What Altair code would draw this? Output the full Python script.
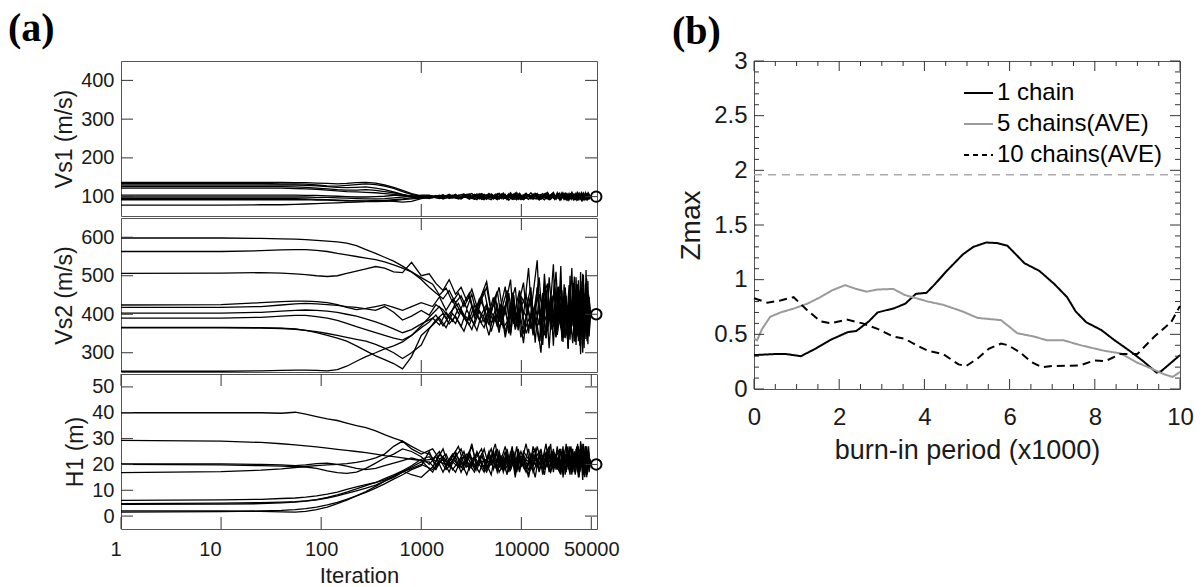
import altair as alt
import pandas as pd

FONT = "Liberation Sans"
SERIF = "Liberation Serif"

# ---------------- panel (a) data ----------------
EARLY_ITER = [1, 10, 25, 40, 55, 70, 90, 115, 145, 180, 225, 280, 350, 430, 530, 650, 800, 1000]
NOISE_ITER_A = [1200, 1400, 1650, 1900, 2200, 2500, 2850, 3200, 3600, 4000,
                4500, 5000, 5500, 6000, 6600, 7200, 7800, 8400, 9000, 9600,
                10500, 11800, 13100, 14400, 15700, 17000, 18300, 19600, 20900, 22200,
                23500, 24800, 26100, 27400, 28700, 30000, 31300, 32600, 33900, 35200,
                36500, 37800, 39100, 40400, 41700, 43000, 44300, 45600, 46900, 48200]
NOISE_ITER_B = [1300, 1520, 1770, 2050, 2350, 2670, 3020, 3400, 3800, 4250,
                4750, 5250, 5750, 6300, 6900, 7500, 8100, 8700, 9300, 9900,
                11150, 12450, 13750, 15050, 16350, 17650, 18950, 20250, 21550, 22850,
                24150, 25450, 26750, 28050, 29350, 30650, 31950, 33250, 34550, 35850,
                37150, 38450, 39750, 41050, 42350, 43650, 44950, 46250, 47550, 49000]
TRUE_ITER = 56000
TRUE_VS1, TRUE_VS2, TRUE_H1 = 100, 400, 20
A_XTICKS_TOP = [1000, 10000]
A_XTICKS_BOTTOM = [1, 10, 100, 1000, 10000, 50000]
VS1_YTICKS = [100, 200, 300, 400]
VS2_YTICKS = [300, 400, 500, 600]
H1_YTICKS = [0, 10, 20, 30, 40, 50]

VS1_EARLY = [
    [137, 137, 137, 137, 136, 136, 135, 134, 133, 134, 136, 137, 135, 130, 124, 116, 108, 102],
    [134, 134, 134, 133, 133, 132, 130, 128, 127, 129, 131, 133, 131, 127, 121, 113, 106, 99],
    [130, 130, 130, 130, 130, 129, 128, 126, 124, 123, 124, 125, 122, 118, 112, 106, 101, 97],
    [126, 126, 126, 126, 125, 124, 122, 120, 118, 117, 117, 118, 116, 113, 110, 105, 100, 98],
    [122, 122, 122, 122, 121, 120, 119, 117, 115, 113, 112, 111, 110, 108, 106, 103, 99, 104],
    [104, 104, 104, 104, 104, 103, 103, 102, 101, 100, 99, 99, 100, 101, 103, 104, 102, 100],
    [99, 99, 99, 99, 99, 99, 98, 98, 97, 96, 95, 94, 94, 95, 97, 99, 101, 99],
    [95, 95, 95, 95, 95, 94, 93, 92, 91, 90, 89, 89, 90, 90, 92, 94, 97, 101],
    [92, 92, 92, 92, 92, 92, 91, 91, 90, 89, 89, 88, 87, 88, 90, 92, 94, 96],
    [78, 78, 79, 79, 80, 81, 82, 83, 84, 85, 86, 87, 88, 89, 88, 86, 88, 95],
]
VS1_LATE = [
    [102, 97, 104, 98, 106, 95, 103, 108, 96, 104, 93, 107, 99, 109, 94, 102, 106, 95, 110, 97, 92, 105, 99, 108, 94, 103, 111, 96, 102, 93, 107, 98, 109, 95, 103, 92, 106, 97, 105, 99, 110, 94, 104, 96, 108, 93, 102, 107, 95, 101],
    [99, 104, 96, 101, 94, 106, 98, 93, 104, 96, 108, 94, 103, 95, 106, 91, 100, 108, 93, 102, 107, 96, 104, 91, 101, 109, 94, 103, 96, 110, 92, 105, 97, 107, 94, 102, 111, 95, 104, 92, 106, 98, 109, 93, 103, 96, 108, 94, 105, 99],
    [103, 98, 105, 95, 102, 96, 106, 99, 92, 107, 100, 96, 105, 94, 109, 97, 104, 93, 101, 108, 95, 103, 93, 106, 98, 92, 105, 99, 108, 95, 103, 94, 106, 99, 92, 108, 96, 105, 100, 93, 107, 97, 104, 92, 106, 98, 103, 95, 108, 100],
    [97, 102, 99, 104, 96, 103, 93, 101, 107, 94, 103, 98, 92, 105, 96, 108, 94, 103, 97, 92, 106, 98, 109, 96, 104, 94, 101, 107, 93, 103, 96, 110, 94, 104, 98, 106, 93, 103, 95, 108, 97, 102, 92, 106, 99, 104, 94, 107, 96, 100],
    [104, 99, 97, 103, 98, 94, 105, 96, 102, 108, 95, 104, 96, 101, 105, 94, 110, 98, 104, 95, 102, 93, 107, 98, 94, 105, 96, 104, 111, 97, 101, 94, 104, 96, 107, 99, 95, 108, 98, 93, 106, 97, 104, 92, 107, 99, 94, 105, 97, 101],
    [100, 95, 102, 97, 104, 99, 96, 106, 98, 92, 105, 97, 108, 100, 95, 104, 93, 101, 106, 101, 96, 110, 95, 102, 108, 97, 92, 105, 98, 107, 94, 102, 96, 105, 91, 104, 98, 94, 106, 100, 93, 107, 96, 103, 95, 109, 97, 102, 94, 99],
    [95, 101, 98, 106, 96, 99, 104, 95, 105, 99, 96, 92, 106, 97, 103, 95, 102, 107, 92, 105, 98, 104, 96, 94, 105, 100, 107, 94, 104, 96, 105, 91, 102, 109, 96, 95, 105, 99, 93, 104, 97, 108, 95, 101, 93, 106, 99, 103, 96, 100],
    [101, 97, 100, 96, 103, 107, 95, 103, 94, 102, 107, 99, 95, 104, 98, 106, 96, 93, 103, 98, 109, 94, 103, 105, 96, 101, 95, 104, 98, 106, 97, 108, 93, 100, 104, 96, 102, 92, 107, 96, 103, 95, 108, 97, 101, 94, 106, 98, 104, 100],
    [98, 103, 94, 100, 104, 96, 102, 97, 107, 93, 100, 105, 100, 94, 108, 92, 101, 104, 96, 108, 93, 102, 98, 104, 94, 107, 97, 93, 106, 99, 95, 104, 101, 94, 100, 105, 95, 103, 96, 105, 93, 102, 98, 107, 95, 101, 104, 93, 102, 99],
    [100, 96, 103, 98, 95, 103, 107, 94, 101, 106, 97, 103, 93, 107, 99, 103, 95, 109, 94, 102, 104, 95, 106, 93, 103, 96, 104, 98, 94, 104, 109, 96, 105, 92, 106, 97, 103, 106, 94, 101, 97, 105, 93, 104, 98, 107, 95, 103, 97, 100],
]

VS2_EARLY = [
    [598, 598, 597, 596, 595, 594, 592, 590, 588, 585, 578, 568, 558, 548, 538, 525, 510, 490],
    [563, 563, 565, 567, 568, 568, 566, 563, 558, 554, 550, 546, 542, 536, 528, 520, 510, 495],
    [506, 507, 508, 507, 505, 503, 500, 498, 500, 506, 512, 518, 524, 520, 510, 508, 535, 500],
    [424, 425, 430, 433, 434, 434, 433, 430, 425, 418, 412, 415, 420, 425, 418, 410, 420, 430],
    [418, 418, 420, 424, 427, 428, 427, 425, 423, 420, 418, 414, 410, 420, 405, 385, 395, 410],
    [403, 403, 405, 408, 410, 411, 410, 408, 405, 400, 395, 388, 380, 372, 362, 352, 360, 375],
    [390, 390, 392, 395, 397, 397, 394, 390, 384, 376, 368, 360, 352, 345, 338, 333, 345, 365],
    [366, 366, 365, 364, 362, 358, 352, 345, 338, 330, 318, 305, 292, 282, 272, 258, 290, 345],
    [365, 365, 364, 363, 361, 358, 355, 350, 345, 340, 335, 330, 322, 312, 300, 285, 300, 320],
    [252, 252, 253, 254, 255, 255, 254, 253, 256, 265, 278, 290, 300, 310, 318, 328, 345, 370],
]
VS2_LATE = [
    [470, 455, 440, 462, 430, 448, 415, 452, 396, 438, 470, 405, 446, 380, 428, 462, 398, 450, 372, 436, 482, 350, 452, 540, 330, 505, 388, 446, 318, 458, 410, 486, 340, 470, 398, 476, 350, 432, 498, 320, 455, 372, 510, 345, 440, 395, 480, 330, 452, 400],
    [478, 450, 468, 432, 455, 420, 446, 392, 430, 462, 402, 444, 368, 425, 472, 388, 456, 410, 358, 448, 418, 470, 326, 452, 420, 338, 496, 402, 490, 350, 430, 462, 340, 448, 312, 500, 370, 436, 396, 478, 330, 462, 385, 505, 350, 432, 470, 322, 445, 400],
    [505, 480, 462, 490, 452, 470, 435, 465, 420, 450, 485, 410, 438, 470, 395, 445, 490, 375, 430, 462, 396, 520, 345, 470, 350, 455, 480, 368, 446, 510, 392, 525, 328, 468, 356, 448, 392, 470, 340, 496, 372, 440, 318, 486, 405, 360, 515, 388, 432, 400],
    [420, 445, 410, 438, 402, 430, 455, 396, 440, 418, 372, 432, 460, 390, 422, 350, 442, 470, 385, 418, 452, 362, 430, 496, 380, 440, 312, 425, 470, 386, 448, 330, 478, 362, 324, 430, 520, 378, 460, 340, 488, 365, 420, 300, 455, 392, 470, 345, 438, 400],
    [398, 425, 412, 390, 430, 405, 380, 422, 398, 445, 376, 410, 436, 362, 402, 440, 345, 420, 395, 458, 372, 410, 350, 446, 398, 475, 356, 430, 530, 342, 462, 414, 338, 460, 345, 420, 390, 452, 330, 418, 478, 355, 440, 392, 502, 336, 428, 466, 372, 400],
    [390, 372, 405, 382, 415, 392, 372, 408, 385, 365, 412, 380, 398, 428, 352, 395, 422, 368, 410, 340, 392, 438, 375, 412, 320, 462, 382, 448, 356, 416, 380, 352, 430, 395, 310, 445, 368, 482, 328, 440, 398, 350, 468, 322, 430, 385, 492, 356, 418, 400],
    [380, 398, 370, 395, 376, 408, 385, 360, 402, 378, 420, 355, 392, 410, 365, 380, 350, 415, 372, 398, 325, 445, 400, 372, 300, 435, 470, 360, 408, 352, 472, 376, 420, 338, 410, 372, 350, 424, 380, 462, 345, 412, 296, 445, 372, 428, 336, 468, 380, 400],
    [372, 390, 365, 402, 380, 356, 395, 372, 410, 390, 345, 398, 370, 412, 340, 385, 408, 360, 392, 428, 350, 388, 420, 372, 455, 338, 400, 378, 426, 346, 395, 430, 360, 405, 385, 334, 428, 372, 412, 350, 465, 318, 436, 382, 350, 478, 364, 420, 342, 400],
    [362, 385, 402, 375, 395, 368, 412, 386, 358, 400, 426, 375, 398, 352, 418, 392, 365, 430, 378, 406, 352, 385, 414, 368, 402, 345, 392, 418, 376, 340, 420, 365, 398, 442, 358, 412, 378, 325, 396, 452, 365, 428, 340, 410, 468, 352, 395, 330, 448, 400],
    [402, 420, 390, 412, 428, 398, 385, 425, 405, 380, 415, 396, 425, 372, 408, 455, 385, 405, 368, 420, 395, 448, 380, 330, 412, 385, 425, 360, 395, 470, 378, 410, 355, 428, 398, 365, 412, 388, 445, 372, 418, 335, 462, 390, 312, 440, 372, 486, 356, 400],
]

H1_EARLY = [
    [40, 40, 40, 39.8, 40.2, 39.5, 38.5, 37.6, 37, 36, 35, 34.2, 33, 31.5, 30.2, 29, 27, 25],
    [29.3, 29, 28.5, 28, 27.6, 27.2, 26.8, 26.3, 25.8, 25.4, 25, 24.6, 24, 23.4, 23, 22.5, 22, 21.5],
    [20, 19.8, 19.5, 19.3, 19.2, 19, 18.5, 17.5, 16.8, 16.5, 17, 18.5, 20.5, 22.5, 24, 26, 25, 23],
    [16.8, 17.2, 17.8, 18.3, 18.8, 19.2, 19.5, 19.8, 20, 20.3, 20.8, 21.5, 22.5, 24, 27, 29, 26, 24],
    [6.1, 6.3, 6.5, 6.8, 7, 7.3, 7.8, 8.5, 9.3, 10.3, 11.3, 12.2, 13, 14, 15.5, 17, 19, 21],
    [4.5, 4.6, 4.8, 5.1, 5.4, 5.8, 6.3, 7, 7.8, 8.8, 9.8, 10.8, 12, 13.5, 15, 17, 18.5, 20],
    [4.8, 5, 5.2, 5.4, 5.6, 5.9, 6.4, 7.2, 8.2, 9.3, 10.5, 11.8, 13, 14.5, 16, 17.5, 19.5, 22],
    [2, 2, 1.8, 1.6, 1.5, 1.8, 2.5, 3.5, 4.8, 6.2, 7.8, 9.5, 11.5, 13.5, 15.5, 17.5, 16, 15],
    [1.5, 1.7, 2, 2.2, 2.5, 2.9, 3.5, 4.3, 5.3, 6.5, 7.8, 9.2, 10.8, 12.5, 14.3, 16, 18, 19.5],
    [20.2, 20.2, 20, 19.8, 19.5, 19.8, 20.3, 20.5, 20, 19.3, 18.5, 18, 18.5, 19.5, 20.5, 21.5, 22.5, 21.5],
]
H1_LATE = [
    [24, 21, 26, 19, 23, 17, 22, 27, 20, 24, 18, 23, 28, 19, 22, 16, 25, 21, 27, 18, 23, 15, 24, 20, 26, 18, 22, 28, 17, 24, 20, 26, 15, 23, 19, 27, 21, 17, 25, 21, 28, 16, 23, 19, 26, 15, 24, 20, 27, 21],
    [22, 25, 19, 23, 27, 20, 24, 18, 21, 26, 19, 24, 17, 22, 27, 20, 23, 15, 24, 20, 28, 18, 22, 25, 16, 23, 27, 19, 24, 21, 17, 25, 22, 28, 18, 23, 16, 24, 20, 27, 15, 22, 26, 18, 24, 17, 27, 21, 23, 20],
    [20, 23, 17, 22, 25, 19, 21, 28, 18, 23, 20, 16, 25, 21, 18, 26, 19, 24, 21, 17, 25, 22, 19, 27, 21, 16, 24, 20, 26, 18, 23, 20, 27, 16, 22, 25, 19, 23, 18, 26, 20, 15, 24, 22, 28, 17, 23, 19, 25, 21],
    [26, 22, 24, 18, 21, 25, 18, 23, 20, 17, 24, 21, 26, 18, 23, 21, 27, 17, 22, 25, 19, 23, 26, 17, 22, 28, 19, 21, 24, 18, 26, 22, 18, 24, 20, 16, 26, 19, 23, 20, 27, 17, 22, 26, 18, 24, 15, 23, 20, 22],
    [21, 18, 23, 20, 17, 22, 24, 19, 25, 21, 22, 26, 19, 24, 17, 22, 20, 25, 18, 23, 21, 16, 27, 22, 19, 24, 21, 17, 25, 20, 22, 16, 24, 21, 27, 19, 22, 26, 17, 21, 24, 18, 29, 20, 16, 25, 22, 18, 24, 20],
    [18, 21, 20, 24, 19, 23, 20, 17, 22, 19, 25, 18, 22, 20, 25, 17, 23, 19, 26, 21, 17, 24, 20, 23, 18, 25, 17, 23, 20, 27, 19, 24, 20, 17, 25, 21, 18, 24, 20, 22, 16, 26, 19, 23, 21, 27, 18, 22, 17, 21],
    [23, 20, 22, 17, 24, 21, 16, 22, 24, 20, 17, 22, 20, 25, 19, 24, 18, 22, 20, 24, 19, 26, 17, 21, 24, 20, 26, 22, 18, 23, 25, 17, 21, 24, 19, 23, 27, 18, 22, 20, 25, 17, 21, 28, 19, 23, 16, 25, 20, 19],
    [19, 24, 21, 22, 20, 18, 23, 20, 17, 22, 21, 25, 18, 23, 21, 19, 24, 16, 23, 19, 22, 20, 24, 18, 23, 21, 18, 25, 22, 19, 17, 23, 25, 20, 22, 18, 24, 21, 16, 21, 26, 19, 23, 17, 22, 27, 18, 24, 21, 20],
    [25, 19, 22, 20, 23, 26, 19, 21, 23, 26, 19, 20, 23, 17, 20, 22, 18, 21, 17, 22, 24, 18, 21, 19, 22, 24, 20, 17, 21, 23, 20, 19, 23, 18, 21, 24, 20, 22, 25, 20, 17, 23, 19, 26, 21, 18, 24, 16, 22, 20],
    [17, 22, 18, 21, 19, 21, 25, 19, 22, 18, 23, 19, 21, 23, 18, 21, 26, 20, 24, 21, 18, 22, 15, 24, 20, 19, 23, 21, 19, 22, 18, 21, 19, 22, 24, 17, 23, 19, 21, 20, 25, 18, 22, 14, 23, 20, 26, 18, 22, 21],
]

# ---------------- panel (b) data ----------------
B1_X = [0, 0.5, 0.75, 1.1, 1.45, 1.8, 2.2, 2.4, 2.7, 2.9, 3.3, 3.55, 3.8, 4.05, 4.25, 4.5, 4.9, 5.15, 5.45,
        5.7, 5.95, 6.15, 6.35, 6.7, 7.05, 7.35, 7.55, 7.8, 8.15, 8.45, 8.85, 9.15, 9.45, 9.55, 10]
B1_Y = [0.31, 0.32, 0.32, 0.30, 0.37, 0.45, 0.52, 0.53, 0.62, 0.70, 0.74, 0.78, 0.87, 0.88, 0.96, 1.07, 1.23, 1.30, 1.34,
        1.335, 1.31, 1.23, 1.15, 1.08, 0.96, 0.84, 0.71, 0.61, 0.54, 0.45, 0.34, 0.25, 0.15, 0.16, 0.31]
B5_X = [0, 0.07, 0.19, 0.38, 0.62, 0.93, 1.25, 1.56, 1.82, 2.14, 2.36, 2.64, 2.9, 3.27, 3.54, 3.72, 4.08, 4.44,
        4.89, 5.25, 5.8, 6.18, 6.57, 6.88, 7.27, 7.67, 8.22, 8.61, 9.0, 9.31, 9.63, 9.83, 10]
B5_Y = [0.46, 0.445, 0.55, 0.66, 0.70, 0.735, 0.78, 0.84, 0.90, 0.95, 0.92, 0.89, 0.91, 0.915, 0.86, 0.84, 0.80, 0.77,
        0.71, 0.65, 0.63, 0.51, 0.48, 0.445, 0.445, 0.40, 0.35, 0.325, 0.24, 0.19, 0.134, 0.11, 0.156]
B10_X = [0, 0.31, 0.62, 0.93, 1.25, 1.56, 1.8, 2.18, 2.55, 2.9, 3.27, 3.54, 3.81, 4.08, 4.44, 4.8, 4.98, 5.25, 5.52,
         5.8, 5.97, 6.26, 6.5, 6.75, 7.0, 7.65, 7.98, 8.25, 8.6, 9.0, 9.4, 9.79, 10]
B10_Y = [0.83, 0.79, 0.81, 0.84, 0.72, 0.62, 0.60, 0.635, 0.60, 0.55, 0.48, 0.46, 0.40, 0.35, 0.32, 0.225, 0.21, 0.28, 0.37,
         0.415, 0.40, 0.33, 0.25, 0.20, 0.21, 0.215, 0.26, 0.255, 0.32, 0.32, 0.48, 0.61, 0.76]
SERIES = ["1 chain", "5 chains(AVE)", "10 chains(AVE)"]
REF_Z = 1.96
B_XTICKS = [0, 2, 4, 6, 8, 10]
B_YTICKS = [0, 0.5, 1, 1.5, 2, 2.5, 3]
MINOR_X = [0.5, 1, 1.5, 2.5, 3, 3.5, 4.5, 5, 5.5, 6.5, 7, 7.5, 8.5, 9, 9.5]
MINOR_Y = [0.1, 0.2, 0.3, 0.4, 0.6, 0.7, 0.8, 0.9, 1.1, 1.2, 1.3, 1.4, 1.6, 1.7, 1.8, 1.9,
           2.1, 2.2, 2.3, 2.4, 2.6, 2.7, 2.8, 2.9]

# ---------------- build ----------------
W_A = 476
W_B, H_B = 426, 328
TICK_C = "#333333"


def trace_df(early, late):
    rows = []
    for c, (e, l) in enumerate(zip(early, late)):
        grid = NOISE_ITER_A if c % 2 == 0 else NOISE_ITER_B
        for it, v in zip(EARLY_ITER + grid, e + l):
            rows.append({"chain": c, "iter": it, "val": v})
    return pd.DataFrame(rows)


def tick_rules(xvals, yvals, xs, ys, w, h, ln):
    """Inward tick marks on all four sides, drawn as short rules."""
    out = []
    xd = pd.DataFrame({"v": xvals})
    yd = pd.DataFrame({"v": yvals})
    out.append(alt.Chart(xd).mark_rule(color=TICK_C, strokeWidth=1).encode(
        x=alt.X("v:Q", scale=xs, axis=None), y=alt.value(h - ln), y2=alt.value(h)))
    out.append(alt.Chart(xd).mark_rule(color=TICK_C, strokeWidth=1).encode(
        x=alt.X("v:Q", scale=xs, axis=None), y=alt.value(0), y2=alt.value(ln)))
    out.append(alt.Chart(yd).mark_rule(color=TICK_C, strokeWidth=1).encode(
        y=alt.Y("v:Q", scale=ys, axis=None), x=alt.value(0), x2=alt.value(ln)))
    out.append(alt.Chart(yd).mark_rule(color=TICK_C, strokeWidth=1).encode(
        y=alt.Y("v:Q", scale=ys, axis=None), x=alt.value(w - ln), x2=alt.value(w)))
    return out


AX_COMMON = dict(grid=False, domain=False, ticks=False, labels=True,
                 labelFont=FONT, titleFont=FONT, titleFontWeight="normal")


def trace_panel(early, late, ydom, yticks, height, xticks, bottom_labels, true_val, ytitle, tag=None):
    df = trace_df(early, late)
    xs = alt.Scale(type="log", domain=[1, 57000], nice=False)
    ys = alt.Scale(domain=ydom, nice=False, zero=False)
    if bottom_labels:
        xaxis = alt.Axis(**AX_COMMON, orient="bottom", values=xticks, format="d", labelFlush=False,
                         labelOverlap=False, labelFontSize=20, labelPadding=10, title="Iteration",
                         titleFontSize=22, titlePadding=6,
                         labelAlign={"condition": {"test": "datum.value <= 10", "value": "right"},
                                     "value": "center"})
    else:
        xaxis = None
    yaxis = alt.Axis(**AX_COMMON, orient="left", values=yticks, labelFontSize=20, labelPadding=7,
                     title=ytitle, titleFontSize=23, titlePadding=4)

    lines = alt.Chart(df).mark_line(color="black", strokeWidth=1.3, clip=True).encode(
        x=alt.X("iter:Q", scale=xs, axis=xaxis),
        y=alt.Y("val:Q", scale=ys, axis=yaxis),
        detail="chain:N",
        order="iter:Q",
    )
    tdf = pd.DataFrame({"iter": [TRUE_ITER], "val": [true_val]})
    marker = alt.Chart(tdf).mark_point(shape="circle", size=110, filled=False, color="black",
                                       strokeWidth=2, opacity=1).encode(
        x=alt.X("iter:Q", scale=xs, axis=None),
        y=alt.Y("val:Q", scale=ys, axis=None),
    )
    xt = A_XTICKS_BOTTOM if bottom_labels else A_XTICKS_TOP
    layers = [lines, marker] + tick_rules(xt, yticks, xs, ys, W_A, height, 12)
    if tag:
        layers.append(
            alt.Chart(pd.DataFrame({"t": [tag]})).mark_text(
                font=SERIF, fontWeight="bold", fontSize=40, align="left", baseline="alphabetic",
                color="black").encode(text="t:N", x=alt.value(-113), y=alt.value(-20))
        )
    return alt.layer(*layers).resolve_axis(x="independent", y="independent").properties(
        width=W_A, height=height)


vs1 = trace_panel(VS1_EARLY, VS1_LATE, [50, 450], VS1_YTICKS, 155, A_XTICKS_TOP,
                  False, TRUE_VS1, "Vs1 (m/s)", tag="(a)")
vs2 = trace_panel(VS2_EARLY, VS2_LATE, [250, 650], VS2_YTICKS, 154, A_XTICKS_TOP,
                  False, TRUE_VS2, "Vs2 (m/s)")
h1 = trace_panel(H1_EARLY, H1_LATE, [-5, 55], H1_YTICKS, 155, A_XTICKS_BOTTOM,
                 True, TRUE_H1, "H1 (m)")
panel_a = alt.vconcat(vs1, vs2, h1, spacing=0)

# panel b
bdf = pd.concat([
    pd.DataFrame({"x": B1_X, "z": B1_Y, "s": SERIES[0]}),
    pd.DataFrame({"x": B5_X, "z": B5_Y, "s": SERIES[1]}),
    pd.DataFrame({"x": B10_X, "z": B10_Y, "s": SERIES[2]}),
])
bx = alt.Scale(domain=[0, 10], nice=False)
by = alt.Scale(domain=[0, 3], nice=False)

blines = alt.Chart(bdf).mark_line(strokeWidth=2).encode(
    x=alt.X("x:Q", scale=bx, axis=alt.Axis(**AX_COMMON, orient="bottom", values=B_XTICKS,
                                            format="d", labelFlush=False, labelFontSize=24,
                                            labelPadding=16, title="burn-in period (x1000)",
                                            titleFontSize=27, titlePadding=8)),
    y=alt.Y("z:Q", scale=by, axis=alt.Axis(**AX_COMMON, orient="left", values=B_YTICKS,
                                            format="~g", labelFontSize=24, labelPadding=7,
                                            title="Zmax", titleFontSize=28, titlePadding=8)),
    color=alt.Color("s:N", scale=alt.Scale(domain=SERIES, range=["black", "#9a9a9a", "black"]),
                    legend=None),
    strokeDash=alt.StrokeDash("s:N", scale=alt.Scale(domain=SERIES, range=[[1, 0], [1, 0], [8, 5]]),
                              legend=None),
    order="x:Q",
)
ref = alt.Chart(pd.DataFrame({"x0": [0], "x1": [10], "z": [REF_Z]})).mark_rule(
    color="#aaaaaa", strokeWidth=1.5, strokeDash=[8, 6]).encode(
    x=alt.X("x0:Q", scale=bx, axis=None),
    x2="x1:Q",
    y=alt.Y("z:Q", scale=by, axis=None),
)
b_ticks = tick_rules(B_XTICKS, B_YTICKS, bx, by, W_B, H_B, 10) + \
    tick_rules(MINOR_X, MINOR_Y, bx, by, W_B, H_B, 5)

legend_layers = []
leg_style = [("black", [1, 0]), ("#9a9a9a", [1, 0]), ("black", [5, 4])]
for i, (name, (col, dash)) in enumerate(zip(SERIES, leg_style)):
    ly = 32 + 31 * i
    legend_layers.append(
        alt.Chart(pd.DataFrame({"t": [name]})).mark_rule(color=col, strokeWidth=2, strokeDash=dash)
        .encode(x=alt.value(210), x2=alt.value(239), y=alt.value(ly))
    )
    legend_layers.append(
        alt.Chart(pd.DataFrame({"t": [name]})).mark_text(font=FONT, fontSize=24, align="left",
                                                         baseline="middle", color="black")
        .encode(text="t:N", x=alt.value(243), y=alt.value(ly))
    )
tag_b = alt.Chart(pd.DataFrame({"t": ["(b)"]})).mark_text(
    font=SERIF, fontWeight="bold", fontSize=40, align="left", baseline="alphabetic",
    color="black").encode(text="t:N", x=alt.value(-82), y=alt.value(-17))

panel_b = alt.layer(blines, ref, *b_ticks, tag_b, *legend_layers).resolve_axis(
    x="independent", y="independent").properties(width=W_B, height=H_B)

chart = alt.hconcat(panel_a, panel_b, spacing=51).properties(
    padding={"left": 7, "top": 8, "right": 5, "bottom": 5}
).configure_view(stroke="#555555", strokeWidth=1).configure_axis(
    labelColor="#1a1a1a", titleColor="#1a1a1a"
)

chart.save("out.html", embed_options={"renderer": "svg", "actions": False})
